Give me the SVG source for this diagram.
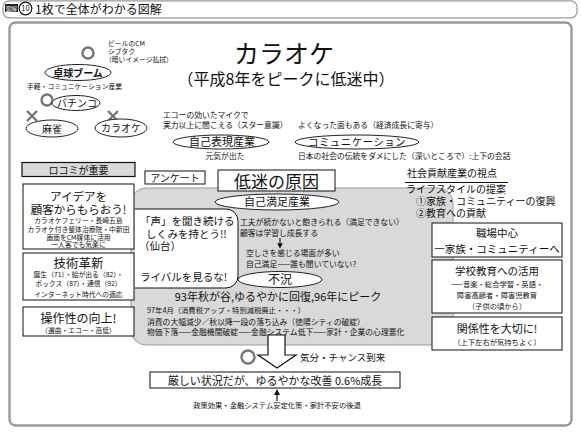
<svg xmlns="http://www.w3.org/2000/svg" width="581" height="433" viewBox="0 0 581 433">
<defs>
<style>
text{font-family:"Noto Sans CJK JP","Noto Sans CJK SC",sans-serif;fill:#111;}
.s7{font-size:6.8px}
.s75{font-size:7.3px}
.s8{font-size:7.8px}
.s10{font-size:10px}
.s11{font-size:11px}
.b{font-weight:bold}
.m{text-anchor:middle}
.ell{fill:#fff;stroke:#222;stroke-width:1}
.box{fill:#fff;stroke:#111;stroke-width:1}
.mark{fill:none;stroke:#777;stroke-width:2.4}
</style>
<marker id="ah" viewBox="0 0 6 6" refX="3" refY="3" markerWidth="5" markerHeight="5" orient="auto"><path d="M0,0 L6,3 L0,6 z" fill="#111"/></marker>
</defs>
<rect width="581" height="433" fill="#fff"/>

<!-- header -->
<g id="header">
<rect x="3" y="0.8" width="574" height="17" rx="6" fill="none" stroke="#999" stroke-width="1.2"/>
<rect x="5" y="4" width="13" height="8" fill="#222"/>
<text x="11.5" y="10.5" class="m" style="font-size:5.5px;fill:#fff">図解</text>
<circle cx="25.5" cy="8.5" r="6.3" fill="#fff" stroke="#111" stroke-width="1.2"/>
<text x="25.5" y="11.3" class="m" style="font-size:7.5px">10</text>
<text x="35" y="13.5" style="font-size:12px">1枚で全体がわかる図解</text>
</g>

<!-- frame -->
<rect x="9.5" y="22.5" width="562" height="403" rx="6" fill="none" stroke="#999" stroke-width="2.4"/>

<!-- top left -->
<g id="beer">
<text x="108" y="46" class="s7">ビールのCM</text>
<text x="108" y="54" class="s7">シブタク</text>
<text x="105" y="62" class="s7">（暗いイメージ払拭）</text>
</g>
<g id="takkyu">
<circle cx="88" cy="53" r="5.5" class="mark"/>
<ellipse cx="78" cy="72.5" rx="33" ry="8" class="ell"/>
<text x="78" y="76.5" class="m b" style="font-size:10px">卓球ブーム</text>
<text x="27" y="89" style="font-size:6.8px">手軽・コミュニケーション産業</text>
</g>
<g id="pachinko">
<circle cx="47" cy="100" r="5.5" class="mark"/>
<ellipse cx="76" cy="103" rx="24" ry="7.5" class="ell"/>
<text x="77" y="107" class="m" style="font-size:10px">パチンコ</text>
</g>
<g id="mahjong">
<path d="M27,111 L37,121 M37,111 L27,121" class="mark"/>
<ellipse cx="52" cy="128.5" rx="26" ry="8.5" class="ell"/>
<text x="52" y="132.5" class="m" style="font-size:10px">麻雀</text>
</g>
<g id="karaoke-small">
<path d="M108,111 L118,121 M118,111 L108,121" class="mark"/>
<ellipse cx="121" cy="128" rx="26" ry="9" class="ell"/>
<text x="121" y="132" class="m" style="font-size:10px">カラオケ</text>
</g>

<!-- title -->
<g id="title">
<text x="284" y="63" class="m" style="font-size:25px">カラオケ</text>
<text x="286" y="85" class="m" style="font-size:16px">（平成8年をピークに低迷中）</text>
</g>

<!-- self expression / communication -->
<g id="jiko-hyogen">
<text x="163" y="118" class="s8">エコーの効いたマイクで</text>
<text x="163" y="128" class="s8">実力以上に聞こえる（スター意識）</text>
<ellipse cx="221" cy="142" rx="48" ry="7" class="ell"/>
<text x="222" y="146" class="m s11">自己表現産業</text>
<text x="225" y="159" class="m s8">元気が出た</text>
</g>
<g id="communication">
<text x="298" y="128" class="s8">よくなった面もある（経済成長に寄与）</text>
<ellipse cx="357" cy="142" rx="62" ry="7" class="ell"/>
<text x="357" y="146" class="m" style="font-size:10.5px;letter-spacing:0.4px">コミュニケーション</text>
<text x="298" y="159" class="s8">日本の社会の伝統をダメにした（深いところで）:上下の会話</text>
</g>

<!-- gray area -->
<rect id="gray-area" x="131" y="188" width="322" height="157" rx="15" fill="#d9d9d9" stroke="#9a9a9a" stroke-width="1"/>

<!-- left column -->
<g id="kuchikomi">
<rect x="22" y="162.5" width="113" height="14" fill="#d9d9d9" stroke="#111" stroke-width="1.2"/>
<text x="78.5" y="173.5" class="m s10">ロコミが重要</text>
</g>
<g id="idea">
<rect x="23" y="184" width="111" height="65" class="box"/>
<text x="78.5" y="200.5" class="m" style="font-size:11.5px">アイデアを</text>
<text x="78.5" y="213.5" class="m" style="font-size:11.5px">顧客からもらおう!</text>
<text x="78.5" y="223" class="m s7">カラオケフェリー・長崎五島</text>
<text x="78.5" y="231.5" class="m s7">カラオケ付き整体治療院・中新田</text>
<text x="78.5" y="239.5" class="m s7">画面をCM媒体に活用</text>
<text x="78.5" y="247" class="m s7">一人客でも気楽に</text>
</g>
<g id="gijutsu">
<rect x="23" y="253" width="111" height="47" class="box"/>
<text x="78.5" y="267.5" class="m" style="font-size:12.5px">技術革新</text>
<text x="78.5" y="277" class="m s7">誕生（71）・絵が出る（82）・</text>
<text x="78.5" y="286" class="m s7">ボックス（87）・通信（92）</text>
<text x="78.5" y="297" class="m s7">インターネット時代への適応</text>
</g>
<g id="sousa">
<rect x="23" y="307" width="111" height="29" class="box"/>
<text x="78.5" y="323" class="m" style="font-size:12px">操作性の向上!</text>
<text x="78.5" y="333" class="m s7">（選曲・エコー・高低）</text>
</g>

<!-- center -->
<g id="enquete">
<rect x="145" y="171" width="60" height="13" class="box" stroke-width="1.3"/>
<text x="175" y="181.5" class="m s10">アンケート</text>
</g>
<g id="teimei">
<rect x="218" y="170" width="117" height="21" class="box" stroke-width="1.4"/>
<text x="276.5" y="187.5" class="m" style="font-size:17px">低迷の原因</text>
</g>
<g id="koe">
<path d="M135,209 H226 A12,12 0 0 1 238,221 V276 A12,12 0 0 1 226,288 H135" fill="#fff" stroke="#111" stroke-width="1"/>
<text x="140" y="225" style="font-size:10.5px">「声」を聞き続ける</text>
<text x="146" y="237.5" style="font-size:10.5px">しくみを持とう!!</text>
<text x="139" y="249.5" style="font-size:10.5px">（仙台）</text>
<text x="140" y="281" style="font-size:10.5px">ライバルを見るな!</text>
</g>
<g id="jiko-manzoku">
<ellipse cx="277" cy="202" rx="62" ry="8" class="ell"/>
<text x="277" y="206" class="m s11">自己満足産業</text>
<text x="240" y="224.5" class="s8">工夫が続かないと飽きられる（満足できない）</text>
<text x="240" y="236" class="s8">顧客は学習し成長する</text>
<text x="246" y="256" class="s8">空しさを感じる場面が多い</text>
<text x="246" y="267" class="s8">自己満足——誰も聞いていない?</text>
</g>
<g id="fukyo">
<ellipse cx="280" cy="279.5" rx="42" ry="8" class="ell"/>
<text x="280" y="284" class="m" style="font-size:12px">不況</text>
<text x="278" y="300.5" class="m s11">93年秋が谷,ゆるやかに回復,96年にピーク</text>
<text x="147" y="313" class="s75">97年4月（消費税アップ・特別減税廃止・・・）</text>
<text x="147" y="325" class="s8">消費の大幅減少／秋以降一段の落ち込み（徳陽シティの破綻）</text>
<text x="147" y="335" class="s8">物価下落——金融機関破綻——金融システム低下——家計・企業の心理悪化</text>
</g>

<!-- right column -->
<g id="shakai">
<text x="407" y="177" class="s10">社会貢献産業の視点</text>
<line x1="405" y1="182.5" x2="508" y2="182.5" stroke="#111" stroke-width="1"/>
<text x="406" y="193" class="s10">ライフスタイルの提案</text>
<text x="416" y="205" style="font-size:10px">①家族・コミュニティーの復興</text>
<text x="416" y="216.5" style="font-size:10px">②教育への貢献</text>
</g>
<g id="shokuba">
<rect x="432" y="223" width="130" height="34" class="box"/>
<text x="497" y="236.5" class="m" style="font-size:10.5px">職場中心</text>
<text x="497" y="252.5" class="m" style="font-size:10.5px">一家族・コミュニティーへ</text>
</g>
<g id="gakko">
<rect x="432" y="260" width="130" height="53" class="box"/>
<text x="497" y="275" class="m" style="font-size:10.5px">学校教育への活用</text>
<text x="497" y="287" class="m s75">——音楽・総合学習・英語・</text>
<text x="497" y="297.5" class="m s75">障害高齢者・障害児教育</text>
<text x="497" y="308.5" class="m s75">（子供の頃から）</text>
</g>
<g id="kankei">
<rect x="432" y="317" width="130" height="33" class="box"/>
<text x="497" y="333" class="m s11">関係性を大切に!</text>
<text x="497" y="344.5" class="m s75">（上下左右が気持ちよく）</text>
</g>

<!-- bottom -->
<g id="connectors">
<path d="M268,335 H285 V355 H296 L277,368 L258,355 H268 Z" fill="#fff" stroke="#111" stroke-width="1.2"/>
<line x1="277" y1="401" x2="277" y2="392" stroke="#111" stroke-width="1.2" marker-end="url(#ah)"/>
<line x1="280" y1="238" x2="280" y2="246" stroke="#111" stroke-width="1.1" marker-end="url(#ah)"/>
</g>
<g id="chance">
<circle cx="248" cy="357" r="6.5" class="mark"/>
<text x="300" y="361" style="font-size:9.5px">気分・チャンス到来</text>
</g>
<g id="kaizen">
<rect x="150" y="372" width="250" height="16" class="box" stroke-width="1.3"/>
<text x="275" y="384.5" class="m s11">厳しい状況だが、ゆるやかな改善 0.6%成長</text>
</g>
<g id="seisaku">
<text x="277" y="408" class="m s75">政策効果・金融システム安定化策・家計不安の後退</text>
</g>
</svg>
